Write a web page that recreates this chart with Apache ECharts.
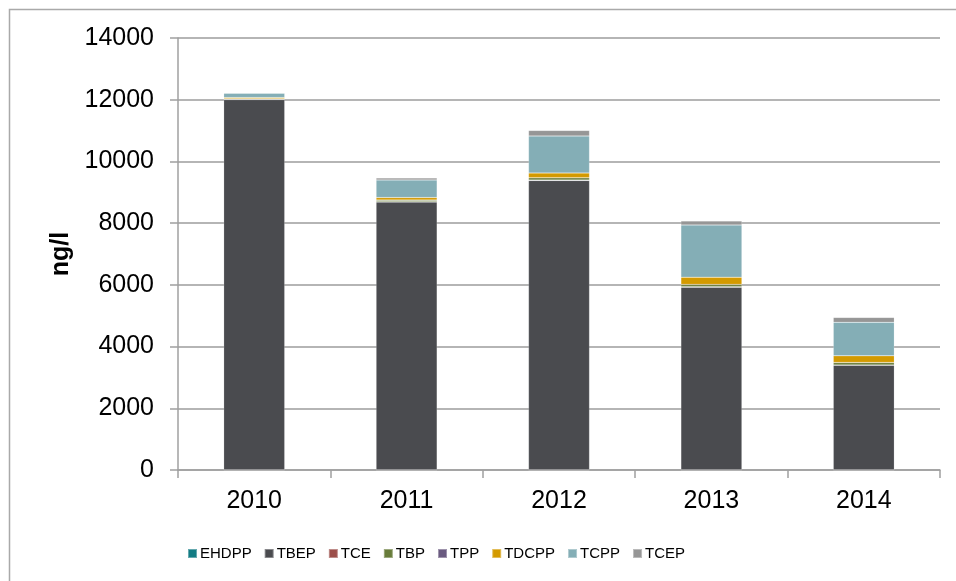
<!DOCTYPE html>
<html>
<head>
<meta charset="utf-8">
<script src="https://cdn.jsdelivr.net/npm/echarts@6/dist/echarts.min.js"></script>
<style>
html, body { margin: 0; padding: 0; background: #fff; }
#main { width: 956px; height: 581px; }
</style>
</head>
<body>
<div id="main"></div>
<script>
var years = ['2010', '2011', '2012', '2013', '2014'];
var seriesNames = ['EHDPP', 'TBEP', 'TCE', 'TBP', 'TPP', 'TDCPP', 'TCPP', 'TCEP'];
var seriesColors = ['#137c84', '#4a4b4f', '#9c4f4a', '#687c3a', '#6a5a80', '#d39a00', '#84aeb6', '#969696'];

var ehdpp = [5, 5, 5, 5, 5];
var tbep = [12000, 8680, 9380, 5920, 3390];
var tce = [5, 10, 10, 10, 10];
var tbp = [15, 50, 75, 75, 75];
var tpp = [5, 5, 5, 5, 5];
var tdcpp = [40, 80, 150, 235, 215];
var tcpp = [140, 570, 1200, 1690, 1085];
var tcep = [15, 65, 180, 130, 160];
var yTicks = [0, 2000, 4000, 6000, 8000, 10000, 12000, 14000];

var seriesData = [ehdpp, tbep, tce, tbp, tpp, tdcpp, tcpp, tcep];

var chartDom = document.getElementById('main');
var myChart = echarts.init(chartDom);

var series = [];
for (var i = 0; i < seriesNames.length; i++) {
    series.push({
        name: seriesNames[i],
        type: 'bar',
        stack: 'total',
        barWidth: 61,
        data: seriesData[i],
        itemStyle: {
            color: seriesColors[i],
            borderColor: 'rgba(255,255,255,0.35)',
            borderWidth: 0.5
        }
    });
}

var option = {
    animation: false,
    textStyle: { fontFamily: 'Liberation Sans' },
    graphic: [
        {
            type: 'rect',
            shape: { x: 9.5, y: 9.5, width: 1200, height: 1200 },
            style: { fill: 'none', stroke: '#a9a9a9', lineWidth: 1.5 },
            silent: true
        }
    ],
    grid: {
        left: 178,
        right: 16,
        top: 38,
        bottom: 111
    },
    legend: {
        data: seriesNames,
        left: 182,
        top: 541,
        itemWidth: 9,
        itemHeight: 9,
        itemGap: 12,
        icon: 'rect',
        textStyle: {
            fontSize: 15,
            color: '#000',
            padding: [0, 0, 0, -2]
        }
    },
    xAxis: {
        type: 'category',
        data: years,
        axisLine: { lineStyle: { color: '#a0a0a0', width: 1.5 } },
        axisTick: { show: true, length: 8, lineStyle: { color: '#a0a0a0', width: 1.5 } },
        axisLabel: { fontSize: 25, color: '#000', margin: 19 }
    },
    yAxis: {
        type: 'value',
        min: yTicks[0],
        max: yTicks[yTicks.length - 1],
        interval: 2000,
        name: 'ng/l',
        nameLocation: 'middle',
        nameGap: 103,
        nameRotate: 90,
        nameTextStyle: { fontSize: 25, fontWeight: 'bold', color: '#000' },
        axisLine: { show: true, lineStyle: { color: '#a0a0a0', width: 1.5 } },
        axisTick: { show: true, length: 8, lineStyle: { color: '#a0a0a0', width: 1.5 } },
        axisLabel: {
            fontSize: 25,
            color: '#000',
            margin: 24,
            formatter: function (v) { return String(v); }
        },
        splitLine: { lineStyle: { color: '#9c9c9c', width: 1.5 } }
    },
    series: series
};

myChart.setOption(option);
</script>
</body>
</html>
